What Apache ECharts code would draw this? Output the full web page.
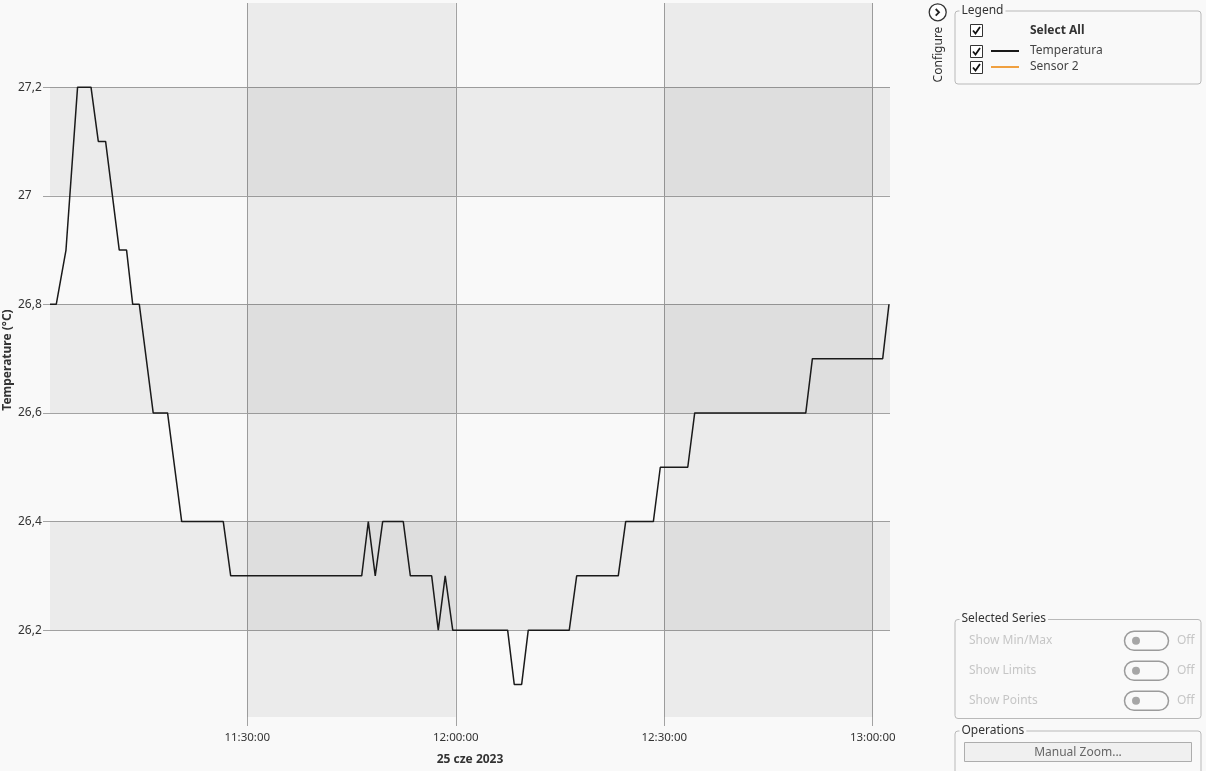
<!DOCTYPE html>
<html><head><meta charset="utf-8">
<script src="https://cdn.jsdelivr.net/npm/echarts@6/dist/echarts.min.js"></script>
<style>html,body{margin:0;padding:0;background:#f9f9f9;}#c{width:1206px;height:771px;}</style>
</head><body><div id="c"></div>
<script>
// ---- data ----
const times = ['11:01:37','11:02:31','11:03:55','11:05:35','11:07:31','11:08:34','11:09:37','11:11:35','11:12:38','11:13:31',
  '11:14:28','11:16:28','11:18:32','11:20:34','11:26:33','11:27:37','11:46:28','11:47:25','11:48:25','11:49:29',
  '11:52:27','11:53:28','11:56:32','11:57:29','11:58:29','11:59:34','12:07:28','12:08:25','12:09:29','12:10:26',
  '12:16:20','12:17:24','12:23:23','12:24:27','12:28:26','12:29:26','12:33:23','12:34:23','12:50:22','12:51:19',
  '13:01:26','13:02:20'];
const temperatura = [26.8,26.8,26.9,27.2,27.2,27.1,27.1,26.9,26.9,26.8,
  26.8,26.6,26.6,26.4,26.4,26.3,26.3,26.4,26.3,26.4,
  26.4,26.3,26.3,26.2,26.3,26.2,26.2,26.1,26.1,26.2,
  26.2,26.3,26.3,26.4,26.4,26.5,26.5,26.6,26.6,26.7,
  26.7,26.8];
const sensor2 = [];
const seriesNames = ['Temperatura','Sensor 2'];
const xTickLabels = ['11:30:00','12:00:00','12:30:00','13:00:00'];
const yTicks = [26.2,26.4,26.6,26.8,27.0,27.2];
const xRange = ['11:01:37','13:02:29'];
const yRange = [26.04, 27.355];
const dateLabel = '25 cze 2023';
const yName = 'Temperature (\u00B0C)';

// ---- helpers ----
function toSec(s){const p=s.split(':').map(Number);return p[0]*3600+p[1]*60+p[2];}
function pad(n){return (n<10?'0':'')+n;}
function fmtSec(v){v=Math.round(v);return pad(Math.floor(v/3600))+':'+pad(Math.floor(v%3600/60))+':'+pad(v%60);}
const FONT = "'Noto Sans', 'Open Sans', sans-serif";
const GRID = '#a3a3a3';
const xTicks = xTickLabels.map(toSec);
const tempData = times.map((t,i)=>[toSec(t), temperatura[i]]);

const bands = [];
for (let i=0;i+1<xTicks.length;i+=2) bands.push([{xAxis:xTicks[i]},{xAxis:xTicks[i+1]}]);
for (let i=0;i+1<yTicks.length;i+=2) bands.push([{yAxis:yTicks[i]},{yAxis:yTicks[i+1]}]);

// ---- right panel decorations ----
const g = [];
const txt = (x,y,text,o={}) => g.push({type:'text',x,y,z:10,style:Object.assign({text,font:'12px '+FONT,fill:'#333',textAlign:'left',textVerticalAlign:'middle'},o)});
function groupBox(x,y,w,h,title){
  g.push({type:'rect',shape:{x:x+0.5,y:y+0.5,width:w,height:h,r:3},style:{fill:'none',stroke:'#b9b9b9',lineWidth:1},z:5});
  g.push({type:'text',x:x+5,y:y,z:10,style:{text:title,font:'12px '+FONT,fill:'#333',textVerticalAlign:'middle',backgroundColor:'#f9f9f9',padding:[0,2,0,2]}});
}
function checkbox(x,y){
  g.push({type:'rect',shape:{x:x+0.5,y:y+0.5,width:12,height:12},style:{fill:'#fff',stroke:'#333',lineWidth:1},z:10});
  g.push({type:'polyline',shape:{points:[[x+3,y+6.5],[x+5.5,y+9.5],[x+10,y+3]]},style:{stroke:'#111',lineWidth:1.8,fill:'none'},z:11});
}
function toggle(y,label){
  txt(969,y,label,{fill:'#c6c6c6'});
  g.push({type:'rect',shape:{x:1124.5,y:y-9.5,width:44,height:19,r:9.5},style:{fill:'none',stroke:'#9b9b9b',lineWidth:1.5},z:10});
  g.push({type:'circle',shape:{cx:1136,cy:y,r:4},style:{fill:'#a6a6a6'},z:11});
  txt(1177,y,'Off',{fill:'#c6c6c6'});
}
// configure button
g.push({type:'circle',shape:{cx:937.7,cy:12.3,r:8.5},style:{fill:'#fff',stroke:'#333',lineWidth:1.3},z:10});
g.push({type:'polyline',shape:{points:[[935.7,9],[939,12.3],[935.7,15.6]]},style:{stroke:'#222',lineWidth:1.8,fill:'none'},z:11});
g.push({type:'text',x:938.5,y:54.5,rotation:Math.PI/2,z:10,style:{text:'Configure',font:'12px '+FONT,fill:'#333',textAlign:'center',textVerticalAlign:'middle'}});
groupBox(954.5,10.5,246,73,'Legend');
checkbox(970,24);
txt(1030,30.5,'Select All',{font:'bold 12px '+FONT});
checkbox(970,45);
checkbox(970,61);
groupBox(954.5,619,246,99,'Selected Series');
toggle(640.7,'Show Min/Max');
toggle(670.7,'Show Limits');
toggle(700.7,'Show Points');
groupBox(954.5,730.5,246,50,'Operations');
g.push({type:'rect',shape:{x:964.5,y:742.5,width:227,height:19},style:{fill:'#f0f0f0',stroke:'#adadad',lineWidth:1},z:10});
txt(1078,752.5,'Manual Zoom...',{fill:'#666',textAlign:'center'});

const chart = echarts.init(document.getElementById('c'), null, {renderer:'canvas'});
chart.setOption({
  animation:false,
  backgroundColor:'#f9f9f9',
  textStyle:{fontFamily:FONT},
  grid:{left:50,right:316,top:3,bottom:54,containLabel:false,outerBoundsMode:'none'},
  legend:{
    orient:'vertical',left:991,top:44,padding:0,itemGap:2,
    itemWidth:28,itemHeight:2,icon:'rect',
    data:seriesNames,
    textStyle:{fontFamily:FONT,fontSize:12,color:'#444',lineHeight:14,padding:[0,0,0,6]},
    selectedMode:false
  },
  xAxis:{
    type:'value',min:toSec(xRange[0]),max:toSec(xRange[1]),
    name:dateLabel,nameLocation:'middle',nameGap:37,
    nameTextStyle:{fontFamily:FONT,fontSize:12,fontWeight:'bold',color:'#333'},
    axisLine:{show:false},
    axisTick:{show:true,customValues:xTicks,length:9,lineStyle:{color:GRID}},
    axisLabel:{customValues:xTicks,formatter:v=>fmtSec(v),margin:15,fontFamily:FONT,fontSize:11.5,color:'#333'},
    splitLine:{show:true,lineStyle:{color:GRID,width:1}}
  },
  yAxis:{
    type:'value',min:yRange[0],max:yRange[1],
    name:yName,nameLocation:'middle',nameGap:36,nameMoveOverlap:false,
    nameTextStyle:{fontFamily:FONT,fontSize:12,fontWeight:'bold',color:'#333'},
    axisLine:{show:false},
    axisTick:{show:true,customValues:yTicks,length:7,lineStyle:{color:GRID}},
    axisLabel:{customValues:yTicks,formatter:v=>String(+(+v).toFixed(1)).replace('.',','),align:'left',margin:32,fontFamily:FONT,fontSize:12,color:'#333'},
    splitLine:{show:true,lineStyle:{color:GRID,width:1}}
  },
  series:[
    {name:seriesNames[0],type:'line',data:tempData,showSymbol:false,symbol:'none',
      lineStyle:{color:'#1a1a1a',width:1.5},itemStyle:{color:'#1a1a1a'},
      markArea:{silent:true,itemStyle:{color:'rgba(0,0,0,0.056)'},data:bands},
      z:3},
    {name:seriesNames[1],type:'line',data:sensor2,showSymbol:false,symbol:'none',
      lineStyle:{color:'#f0a040',width:1.5},itemStyle:{color:'#f0a040'}}
  ],
  graphic:g
});
</script></body></html>
